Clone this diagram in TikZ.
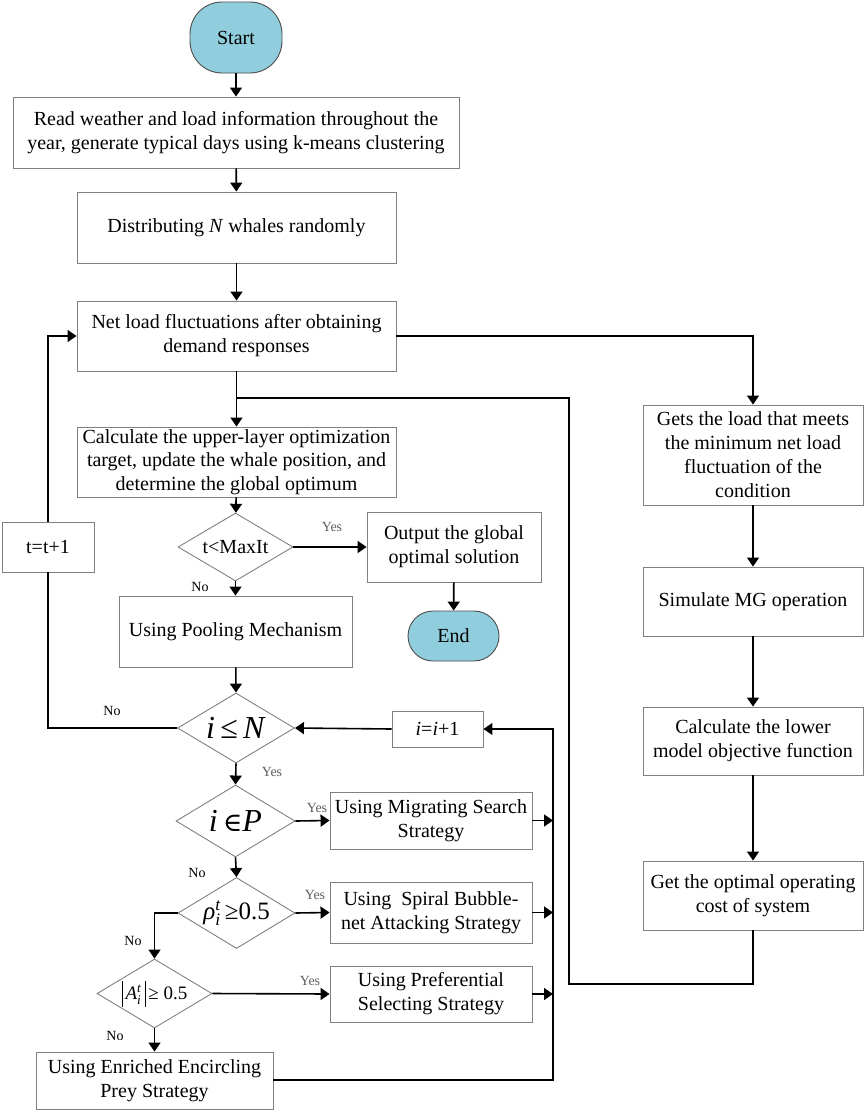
\documentclass[tikz,border=0pt]{standalone}
\usepackage{amsmath}
\usepackage{fontspec}
\setmainfont{Liberation Serif}
\newfontfamily\symfont{DejaVu Serif}
\usetikzlibrary{shapes.geometric,arrows.meta}
\definecolor{termblue}{RGB}{145,206,221}
\definecolor{boxgray}{RGB}{128,128,128}
\definecolor{labgray}{RGB}{95,95,95}
\newcommand{\vbarrule}{\rule[-7pt]{0.8pt}{26pt}}
\begin{document}
\begin{tikzpicture}[x=1pt,y=-1pt,
  box/.style={draw=boxgray, line width=0.9pt, fill=white, inner sep=0pt, align=center, font=\fontsize{20}{24}\selectfont},
  term/.style={draw=black!70, line width=0.9pt, fill=termblue, inner sep=0pt, font=\fontsize{20}{24}\selectfont},
  dia/.style={draw=boxgray, line width=0.9pt, fill=white, diamond, inner sep=0pt},
  conn/.style={line width=1.6pt, -{Triangle[length=9pt,width=12pt]}},
  wire/.style={line width=1.6pt},
  yes/.style={text=labgray, font=\fontsize{14}{14}\selectfont, inner sep=0pt},
  no/.style={text=black, font=\fontsize{14}{14}\selectfont, inner sep=0pt},
]
\useasboundingbox (0,0) rectangle (865,1111);

% left column
\node[term, minimum width=92pt, minimum height=71pt, rounded corners=32pt] (start) at (236,37.5) {Start};
\node[box, minimum width=446pt, minimum height=71pt] (read) at (236,132.5) {Read weather and load information throughout the\\year, generate typical days using k-means clustering};
\node[box, minimum width=319pt, minimum height=71pt] (dist) at (236.5,227.5) {Distributing \textit{N} whales randomly};
\node[box, minimum width=319pt, minimum height=70pt] (net) at (236.5,336) {Net load fluctuations after obtaining\\demand responses};
\node[box, minimum width=319pt, minimum height=70pt, font=\fontsize{20}{23.5}\selectfont] (calc) at (236.5,462) {Calculate the upper-layer optimization\\target, update the whale position, and\\determine the global optimum};
\node[dia, minimum width=115pt, minimum height=68pt, label={[font=\fontsize{20}{24}\selectfont]center:t<MaxIt}] (tmax) at (235.5,547) {};
\node[box, minimum width=92pt, minimum height=50pt] (tt) at (48,547) {t=t+1};
\node[box, minimum width=174pt, minimum height=70pt] (out) at (454,547) {Output the global\\optimal solution};
\node[term, minimum width=91pt, minimum height=50pt, rounded corners=25pt] (end) at (453.5,636) {End};
\node[box, minimum width=233pt, minimum height=71pt] (pool) at (235.5,631.5) {Using Pooling Mechanism};
\node[dia, minimum width=117pt, minimum height=70pt, label={[font=\fontsize{32}{32}\selectfont]center:\textit{i}\,≤\,\textit{N}}] (iN) at (236,728) {};
\node[box, minimum width=91pt, minimum height=36pt] (ii) at (437.5,729) {\textit{i}=\textit{i}+1};
\node[dia, minimum width=119pt, minimum height=72pt, label={[font=\fontsize{32}{32}\selectfont]center:\textit{i}\,{\symfont\fontsize{26}{26}\selectfont ∈}\textit{P}}] (iP) at (235.5,821) {};
\node[box, minimum width=202pt, minimum height=57pt] (mig) at (431,820.5) {Using Migrating Search\\Strategy};
\node[dia, minimum width=117pt, minimum height=71pt, label={[font=\fontsize{25}{25}\selectfont]center:$\textit{ρ}_{\textit{i}}^{\textit{t}}$\,≥0.5}] (rho) at (236.5,913) {};
\node[box, minimum width=202pt, minimum height=61pt] (spiral) at (431,912.5) {Using\ \ Spiral Bubble-\\net Attacking Strategy};
\node[dia, minimum width=115pt, minimum height=69pt, label={[font=\fontsize{19}{19}\selectfont]center:\vbarrule\,$\textit{A}_{\textit{i}}^{\textit{t}}$\,\vbarrule\,≥ 0.5}] (A) at (154.5,993.5) {};
\node[box, minimum width=202pt, minimum height=56pt] (pref) at (431,994) {Using Preferential\\Selecting Strategy};
\node[box, minimum width=237pt, minimum height=57pt] (enr) at (154.5,1080.5) {Using Enriched Encircling\\Prey Strategy};

% right column
\node[box, minimum width=220pt, minimum height=100pt] (gets) at (753,455) {Gets the load that meets\\the minimum net load\\fluctuation of the\\condition};
\node[box, minimum width=220pt, minimum height=69pt] (sim) at (753,601.5) {Simulate MG operation};
\node[box, minimum width=220pt, minimum height=68pt] (low) at (753,741) {Calculate the lower\\model objective function};
\node[box, minimum width=220pt, minimum height=69pt] (opt) at (753,895.5) {Get the optimal operating\\cost of system};

% helper coordinates
\coordinate (j1) at (236.5,398);
\coordinate (rj) at (569,398);
\coordinate (rb) at (569,984);
\coordinate (ob) at (753,984);
\coordinate (tr) at (753,336);
\coordinate (lb) at (48,728);
\coordinate (lt) at (48,336);
\coordinate (c1) at (553,820.5);
\coordinate (c2) at (553,912.5);
\coordinate (c3) at (553,994);
\coordinate (c4) at (553,1080);
\coordinate (c5) at (553,729);
\coordinate (rk) at (154.5,913);

% connectors
\draw[conn] (start) -- (read);
\draw[conn] (read) -- (dist);
\draw[conn] (dist) -- (net);
\draw[conn] (net) -- (calc);
\draw[conn] (net.east) -- (tr) -- (gets.north);
\draw[conn] (gets) -- (sim);
\draw[conn] (sim) -- (low);
\draw[conn] (low) -- (opt);
\draw[wire] (opt.south) -- (ob) -- (rb) -- (rj) -- (j1);
\draw[conn] (calc) -- (tmax);
\draw[conn] (tmax.east) -- (out.west);
\draw[conn] (out) -- (end);
\draw[conn] (tmax.south) -- (pool.north);
\draw[conn] (pool) -- (iN.north);
\draw[wire] (iN.west) -- (lb) -- (tt.south);
\draw[conn] (tt.north) -- (lt) -- (net.west);
\draw[conn] (ii.west) -- (iN.east);
\draw[conn] (iN.south) -- (iP.north);
\draw[conn] (iP.east) -- (mig.west);
\draw[conn] (mig.east) -- (c1);
\draw[conn] (iP.south) -- (rho.north);
\draw[conn] (rho.east) -- (spiral.west);
\draw[conn] (spiral.east) -- (c2);
\draw[conn] (rho.west) -- (rk) -- (A.north);
\draw[conn] (A.east) -- (pref.west);
\draw[conn] (pref.east) -- (c3);
\draw[conn] (A.south) -- (enr.north);
\draw[conn] (enr.east |- c4) -- (c4) -- (c5) -- (ii.east);

% labels
\node[yes] (y1) at (332,527) {Yes};
\node[no] (n1) at (200,587) {No};
\node[no] (n2) at (112,711) {No};
\node[yes] (y2) at (272,772) {Yes};
\node[yes] (y3) at (317,808) {Yes};
\node[no] (n3) at (197,873) {No};
\node[yes] (y4) at (315,895) {Yes};
\node[no] (n4) at (133,941) {No};
\node[yes] (y5) at (310,981) {Yes};
\node[no] (n5) at (115,1036) {No};
\end{tikzpicture}
\end{document}
